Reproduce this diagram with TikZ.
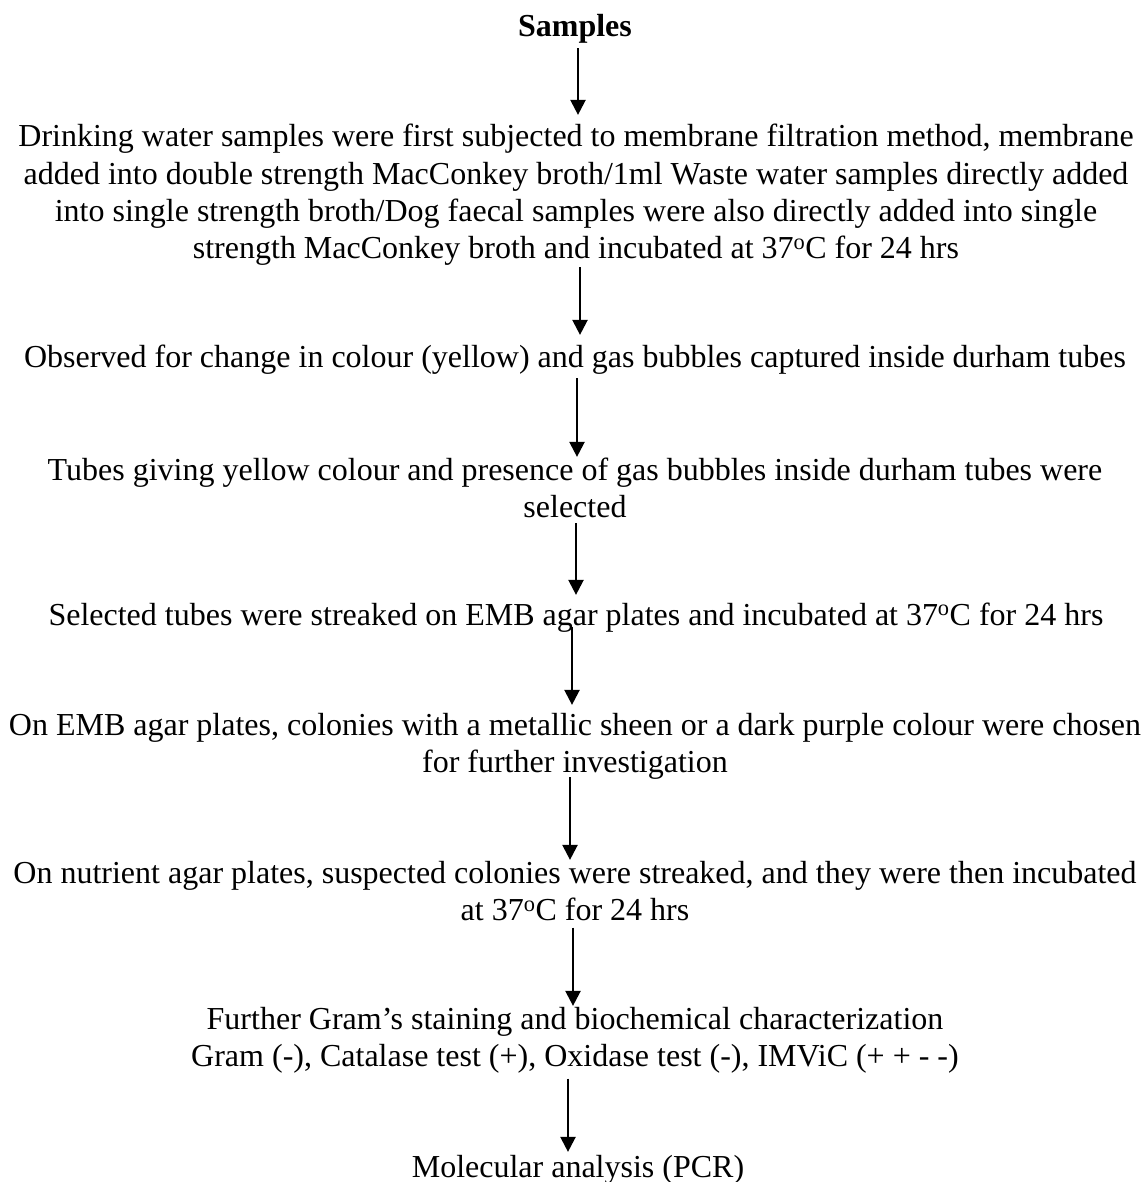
\documentclass[tikz,border=0pt]{standalone}
\usepackage{fontspec}
\setmainfont{Liberation Serif}
\usetikzlibrary{arrows.meta}
\tikzset{
  stepnode/.style={anchor=base, inner sep=0pt, outer sep=0pt,
    font=\fontsize{32}{37.3}\selectfont},
  arr/.style={line width=2.3pt, -{Triangle[width=15pt,length=15pt]}}
}
\newcommand{\blk}[1]{\setlength{\tabcolsep}{0pt}\begin{tabular}[t]{c}#1\end{tabular}}
\begin{document}
\begin{tikzpicture}[x=1pt,y=-1pt]
\useasboundingbox (0,0) rectangle (1145,1182);
\node[stepnode] (s) at (575,37) {\blk{\textbf{Samples}}};
\node[stepnode] (b1) at (576,147) {\blk{Drinking water samples were first subjected to membrane filtration method, membrane\\
added into double strength MacConkey broth/1ml Waste water samples directly added\\
into single strength broth/Dog faecal samples were also directly added into single\\
strength MacConkey broth and incubated at 37\textsuperscript{o}C for 24 hrs}};
\node[stepnode] (b2) at (575,367) {\blk{Observed for change in colour (yellow) and gas bubbles captured inside durham tubes}};
\node[stepnode] (b3) at (575,480) {\blk{Tubes giving yellow colour and presence of gas bubbles inside durham tubes were\\ selected}};
\node[stepnode] (b4) at (576,625) {\blk{Selected tubes were streaked on EMB agar plates and incubated at 37\textsuperscript{o}C for 24 hrs}};
\node[stepnode] (b5) at (575,735) {\blk{On EMB agar plates, colonies with a metallic sheen or a dark purple colour were chosen\\ for further investigation}};
\node[stepnode] (b6) at (575,883) {\blk{On nutrient agar plates, suspected colonies were streaked, and they were then incubated\\ at 37\textsuperscript{o}C for 24 hrs}};
\node[stepnode] (b7) at (575,1029) {\blk{Further Gram’s staining and biochemical characterization\\ Gram (-), Catalase test (+), Oxidase test (-), IMViC (+ + - -)}};
\node[stepnode] (b8) at (578,1177) {\blk{Molecular analysis (PCR)}};
\draw[arr] ([xshift=3pt]s.south) -- ([xshift=2pt,yshift=6pt]b1.north);
\draw[arr] ([xshift=4pt,yshift=3pt]b1.south) -- ([xshift=5pt,yshift=6pt]b2.north);
\draw[arr] ([xshift=2pt]b2.south) -- ([xshift=2pt,yshift=-3pt]b3.north);
\draw[arr] ([xshift=1pt,yshift=5pt]b3.south) -- ([xshift=0pt,yshift=4pt]b4.north);
\draw[arr] ([xshift=-4pt,yshift=9pt]b4.south) -- ([xshift=-3pt,yshift=4pt]b5.north);
\draw[arr] ([xshift=-5pt,yshift=6pt]b5.south) -- ([xshift=-5pt,yshift=-3pt]b6.north);
\draw[arr] ([xshift=-2pt,yshift=4pt]b6.south) -- ([xshift=-2pt,yshift=-3pt]b7.north);
\draw[arr] ([xshift=-7pt,yshift=-1pt]b7.south) -- ([xshift=-10pt,yshift=-1pt]b8.north);
\end{tikzpicture}
\end{document}
